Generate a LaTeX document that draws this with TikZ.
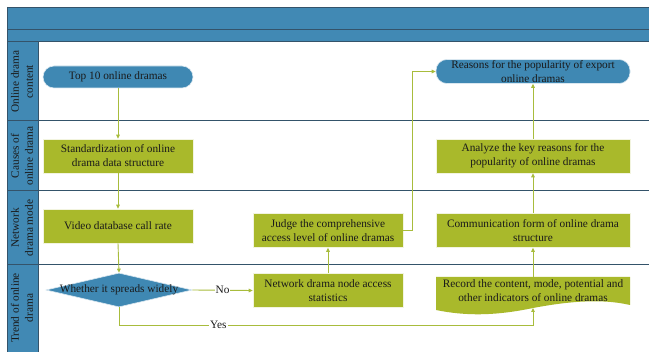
\documentclass[tikz,border=0pt]{standalone}
\usepackage{fontspec}
\setmainfont{Liberation Serif}
\usetikzlibrary{arrows.meta,shapes.geometric}
\definecolor{hblue}{HTML}{4189B4}
\definecolor{nblue}{HTML}{3F88B3}
\definecolor{ngreen}{HTML}{A9B92B}
\definecolor{lgreen}{HTML}{A8BC3C}
\definecolor{dline}{HTML}{34536A}
\definecolor{tcol}{HTML}{1A1A1A}
\tikzset{
  gbox/.style={draw=white!85!ngreen, line width=0.6pt, fill=ngreen, minimum width=150pt, minimum height=34pt, align=center, text=tcol, inner sep=1pt, font=\fontsize{11.3}{14}\selectfont},
  pill/.style={rounded corners=11pt, fill=nblue, draw=white!80!nblue, line width=0.6pt, align=center, text=tcol, inner sep=1pt, font=\fontsize{11.3}{14}\selectfont},
  lanelab/.style={rotate=90, align=center, text=tcol, font=\fontsize{11.3}{14}\selectfont},
  conn/.style={draw=lgreen, line width=0.9pt, -{Triangle[length=4pt,width=3.6pt]}},
  conn0/.style={draw=lgreen, line width=0.9pt},
  lbl/.style={fill=white, inner sep=1pt, text=tcol, font=\fontsize{11.3}{14}\selectfont}
}
\begin{document}
\begin{tikzpicture}[x=1pt,y=-1pt]
\useasboundingbox (0,0) rectangle (649,352);
% header
\fill[hblue] (7,7) rectangle (649,42);
\draw[dline, line width=1pt] (7,7.5) -- (649,7.5);
\draw[dline, line width=1pt] (7,30) -- (649,30);
\draw[dline, line width=1pt] (7,42) -- (649,42);
% lane column
\fill[hblue] (7,42) rectangle (38,352);
\draw[dline, line width=0.8pt] (7,7) -- (7,352);
\draw[dline, line width=0.8pt] (38,42) -- (38,352);
% lane separators
\foreach \yy in {121,191,265} \draw[dline, line width=1pt] (7,\yy) -- (649,\yy);
% lane labels
\node[lanelab] (l1) at (22,81.5) {Online drama\\content};
\node[lanelab] (l2) at (22,156) {Causes of\\online drama};
\node[lanelab] (l3) at (22,228) {Network\\drama mode};
\node[lanelab] (l4) at (22,308) {Trend of online\\drama};
% nodes
\node[pill, minimum width=150pt, minimum height=22pt] (top) at (118,77) {Top 10 online dramas};
\node[pill, minimum width=194pt, minimum height=23pt] (reas) at (533,71.5) {Reasons for the popularity of export\\online dramas};
\node[gbox] (std) at (118,156) {Standardization of online\\drama data structure};
\node[gbox] (vid) at (118,226) {Video database call rate};
\node[diamond, fill=nblue, draw=white!80!nblue, line width=0.6pt, minimum width=146pt, minimum height=34pt, inner sep=0pt, text=tcol, font=\fontsize{11.3}{14}\selectfont] (dia) at (119,290) {};
\node[text=tcol, font=\fontsize{11.3}{14}\selectfont] at (119,290) {Whether it spreads widely};
\node[gbox] (acc) at (328,290.5) {Network drama node access\\statistics};
\node[gbox] (jud) at (328,230.5) {Judge the comprehensive\\access level of online dramas};
\node[gbox, minimum width=194pt] (ana) at (533,156) {Analyze the key reasons for the\\popularity of online dramas};
\node[gbox, minimum width=194pt] (com) at (533,230.5) {Communication form of online drama\\structure};
% record (document shape)
\fill[ngreen] (436,277) -- (630,277) -- (630,305)
  .. controls (600,298) and (565,302) .. (533,308)
  .. controls (495,316) and (465,316) .. (436,310) -- cycle;
\node[text=tcol, align=center, font=\fontsize{11.3}{14}\selectfont] (rec) at (533,291) {Record the content, mode, potential and\\other indicators of online dramas};
\coordinate (recb) at (533,308);
% connectors
\draw[conn] (top.south) -- (std.north);
\draw[conn] (std.south) -- (vid.north);
\draw[conn] (vid.south) -- (dia.north);
\draw[conn] (dia.east) -- node[lbl]{No} (acc.west);
\draw[conn] (dia.south) -- (119,325) -- node[lbl, pos=0.24]{Yes} (533,325) -- (recb);
\draw[conn] (acc.north) -- (jud.south);
\draw[conn] (jud.east) -- (412,230.5) -- (412,71.5) -- (reas.west);
\draw[conn] (recb |- 0,277) -- (com.south);
\draw[conn] (com.north) -- (ana.south);
\draw[conn] (ana.north) -- (reas.south);
\end{tikzpicture}
\end{document}
